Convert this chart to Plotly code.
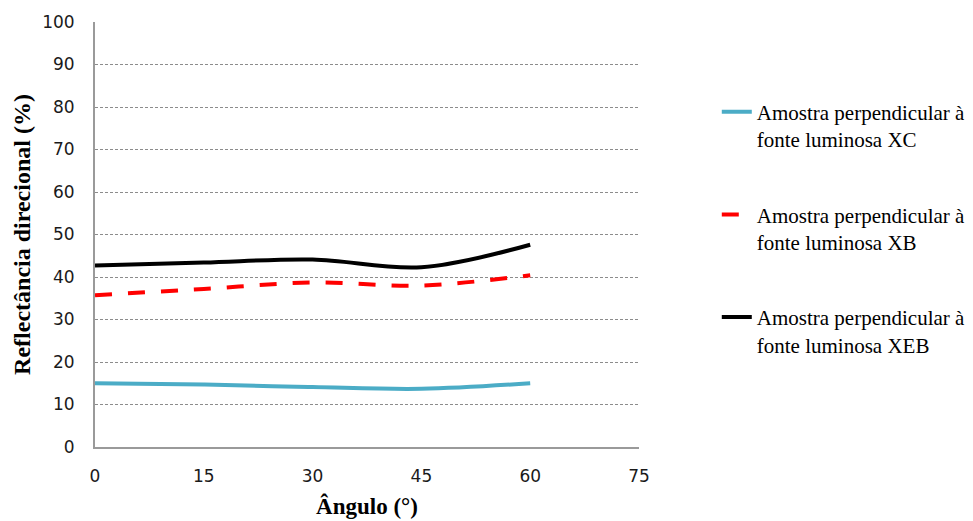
import plotly.graph_objects as go

angles = [0, 15, 30, 45, 60]
xc_values = [15.0, 14.7, 14.1, 13.7, 15.0]
xb_values = [35.7, 37.2, 38.7, 38.0, 40.4]
xeb_values = [42.7, 43.4, 44.1, 42.3, 47.6]
series_names = [
    "Amostra perpendicular à<br>fonte luminosa XC",
    "Amostra perpendicular à<br>fonte luminosa XB",
    "Amostra perpendicular à<br>fonte luminosa XEB",
]
x_ticks = [0, 15, 30, 45, 60, 75]
y_ticks = list(range(0, 101, 10))

fig = go.Figure()
fig.add_trace(go.Scatter(x=angles, y=xc_values, name=series_names[0], mode="lines",
                         line=dict(color="#4BACC6", width=4, shape="spline"),
                         legendgroup="a"))
fig.add_trace(go.Scatter(x=angles, y=xb_values, name=series_names[1], mode="lines",
                         line=dict(color="#FF0000", width=4, shape="spline", dash="17px,16px"),
                         legendgroup="b"))
fig.add_trace(go.Scatter(x=angles, y=xeb_values, name=series_names[2], mode="lines",
                         line=dict(color="#000000", width=4, shape="spline"),
                         legendgroup="c"))

tick_font = dict(family="DejaVu Sans", size=17, color="#1a1a1a")

# The page body adds an 8px offset; the figure is sized to fill the rest of the window.
fig.update_layout(
    width=965, height=513,
    margin=dict(l=87, r=334, t=14, b=73.5, pad=0, autoexpand=False),
    paper_bgcolor="white", plot_bgcolor="white",
    showlegend=True,
    legend=dict(
        x=1.143, y=0.836, xanchor="left", yanchor="top",
        font=dict(family="Liberation Serif", size=21, color="#000000"),
        valign="top", traceorder="grouped", tracegroupgap=45,
        bgcolor="rgba(0,0,0,0)",
    ),
    xaxis=dict(
        range=[0, 75], tickvals=x_ticks, ticktext=[str(v) for v in x_ticks],
        showgrid=False, zeroline=False, showline=True, linecolor="#9a9a9a", linewidth=2,
        ticks="", tickfont=tick_font, ticklabelstandoff=13, automargin=False,
        title=dict(text="<b>Ângulo (°)</b>",
                   font=dict(family="Liberation Serif", size=23, color="#000000"), standoff=12),
        fixedrange=True,
    ),
    yaxis=dict(
        range=[0, 100], tickvals=y_ticks, ticktext=[str(v) for v in y_ticks],
        showgrid=True, gridcolor="#8c8c8c", gridwidth=1, griddash="3px,2px",
        zeroline=False, showline=True, linecolor="#9a9a9a", linewidth=2,
        ticks="", tickfont=tick_font, ticklabelstandoff=15, automargin=False,
        title=dict(text="<b>Reflectância direcional (%)</b>",
                   font=dict(family="Liberation Serif", size=24, color="#000000"), standoff=5),
        fixedrange=True,
    ),
)

fig.write_html("out.html")
